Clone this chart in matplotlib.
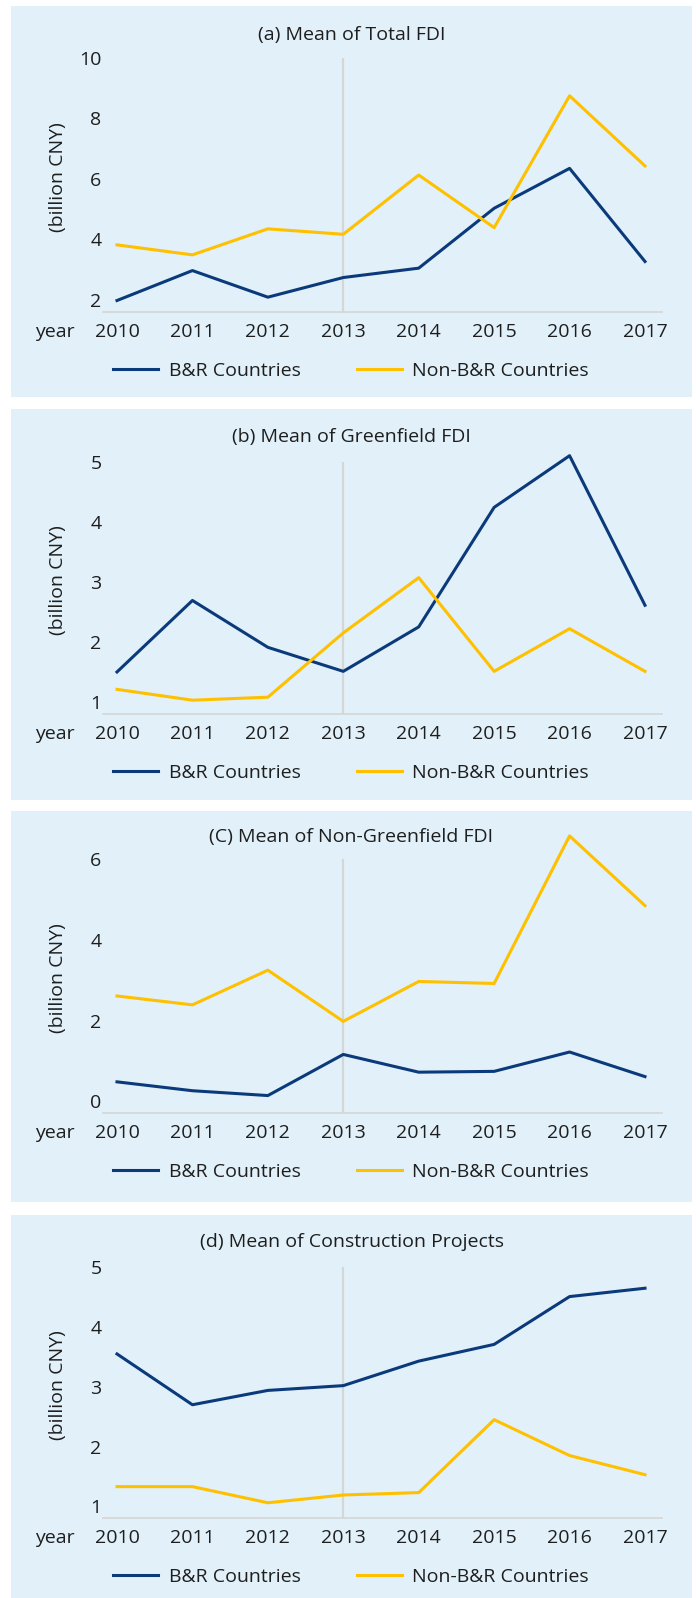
import matplotlib
matplotlib.use('Agg')
import matplotlib.pyplot as plt
from matplotlib.patches import Rectangle
from matplotlib.lines import Line2D

# values (billion CNY)
years = [2010, 2011, 2012, 2013, 2014, 2015, 2016, 2017]

total_br = [1.98, 2.97, 2.09, 2.74, 3.05, 5.03, 6.35, 3.27]
total_non = [3.82, 3.49, 4.35, 4.17, 6.13, 4.39, 8.75, 6.43]

green_br = [1.50, 2.69, 1.91, 1.51, 2.25, 4.24, 5.10, 2.61]
green_non = [1.21, 1.03, 1.08, 2.15, 3.07, 1.51, 2.22, 1.51]

nongreen_br = [0.48, 0.26, 0.14, 1.16, 0.72, 0.74, 1.22, 0.61]
nongreen_non = [2.61, 2.39, 3.25, 1.98, 2.97, 2.92, 6.58, 4.85]

constr_br = [3.55, 2.70, 2.94, 3.02, 3.43, 3.71, 4.51, 4.65]
constr_non = [1.33, 1.33, 1.06, 1.19, 1.23, 2.45, 1.85, 1.53]

titles = ['(a) Mean of Total FDI', '(b) Mean of Greenfield FDI',
          '(C) Mean of Non-Greenfield FDI', '(d) Mean of Construction Projects']
series_br = [total_br, green_br, nongreen_br, constr_br]
series_non = [total_non, green_non, nongreen_non, constr_non]
yticks = [[2, 4, 6, 8, 10], [1, 2, 3, 4, 5], [0, 2, 4, 6], [1, 2, 3, 4, 5]]
ylims = [(1.6, 10), (0.8, 5), (-0.3, 6), (0.8, 5)]

# layout in pixels: panel top/bottom, axes top/bottom, title centre
panel_top = [6, 409, 811, 1215]
panel_bot = [397, 800, 1202, 1598]
ax_top = [58, 461.7, 859.3, 1267.3]
ax_bot = [312, 714, 1113.3, 1518.3]
title_y = [35, 437, 836.7, 1242.3]

NAVY = '#0B3A7B'
GOLD = '#FFC000'
BG = '#E1F0F9'
GRID = '#D6D6D6'
TXT = '#1E1E1E'

W, H = 696, 1598
plt.rcParams['font.family'] = ['Open Sans', 'DejaVu Sans']
fig = plt.figure(figsize=(W / 100, H / 100), dpi=100)

x0, x1 = 103, 662
xl = (2010 - (117 - x0) / ((645 - 117) / 7), 2017 + (x1 - 645) / ((645 - 117) / 7))

for i in range(4):
    # panel background
    fig.patches.append(Rectangle((11 / W, 1 - panel_bot[i] / H), (692 - 11) / W,
                                 (panel_bot[i] - panel_top[i]) / H,
                                 transform=fig.transFigure, facecolor=BG,
                                 edgecolor='none', zorder=-5))

    ax = fig.add_axes([x0 / W, 1 - ax_bot[i] / H, (x1 - x0) / W, (ax_bot[i] - ax_top[i]) / H])
    ax.set_zorder(2)
    ax.set_facecolor('none')
    ax.axvline(2013, color=GRID, lw=1.6, zorder=1)
    # lines run past the top of the axis in (b) and (C), as in the original
    ax.plot(years, series_br[i], color=NAVY, lw=2.2, zorder=3, clip_on=False)
    ax.plot(years, series_non[i], color=GOLD, lw=2.2, zorder=3, clip_on=False)
    ax.set_xlim(*xl)
    ax.set_ylim(*ylims[i])
    ax.set_xticks(years)
    ax.set_yticks(yticks[i])
    ax.tick_params(length=0, labelsize=14, colors=TXT)
    ax.tick_params(axis='x', pad=8)
    ax.tick_params(axis='y', pad=1)
    for s in ['top', 'right', 'left']:
        ax.spines[s].set_visible(False)
    ax.spines['bottom'].set_color(GRID)
    ax.spines['bottom'].set_linewidth(1.2)

    fig.text(351.5 / W, 1 - title_y[i] / H, titles[i], ha='center', va='center',
             fontsize=14, color=TXT)
    fig.text(58 / W, 1 - (ax_top[i] + ax_bot[i] - 16) / 2 / H, '(billion CNY)',
             rotation=90, ha='center', va='center', fontsize=14, color=TXT)
    fig.text(55 / W, 1 - (ax_bot[i] + 20) / H, 'year', ha='center', va='center',
             fontsize=14, color=TXT)

    handles = [Line2D([], [], color=NAVY, lw=2.2), Line2D([], [], color=GOLD, lw=2.2)]
    fig.legend(handles, ['B&R Countries', 'Non-B&R Countries'], loc='center',
               bbox_to_anchor=(351 / W, 1 - (ax_bot[i] + 59) / H),
               bbox_transform=fig.transFigure, ncol=2, frameon=False,
               fontsize=14, handlelength=2.3, handletextpad=0.55,
               columnspacing=2.9, labelcolor=TXT)

fig.savefig('out.png', dpi=100)
